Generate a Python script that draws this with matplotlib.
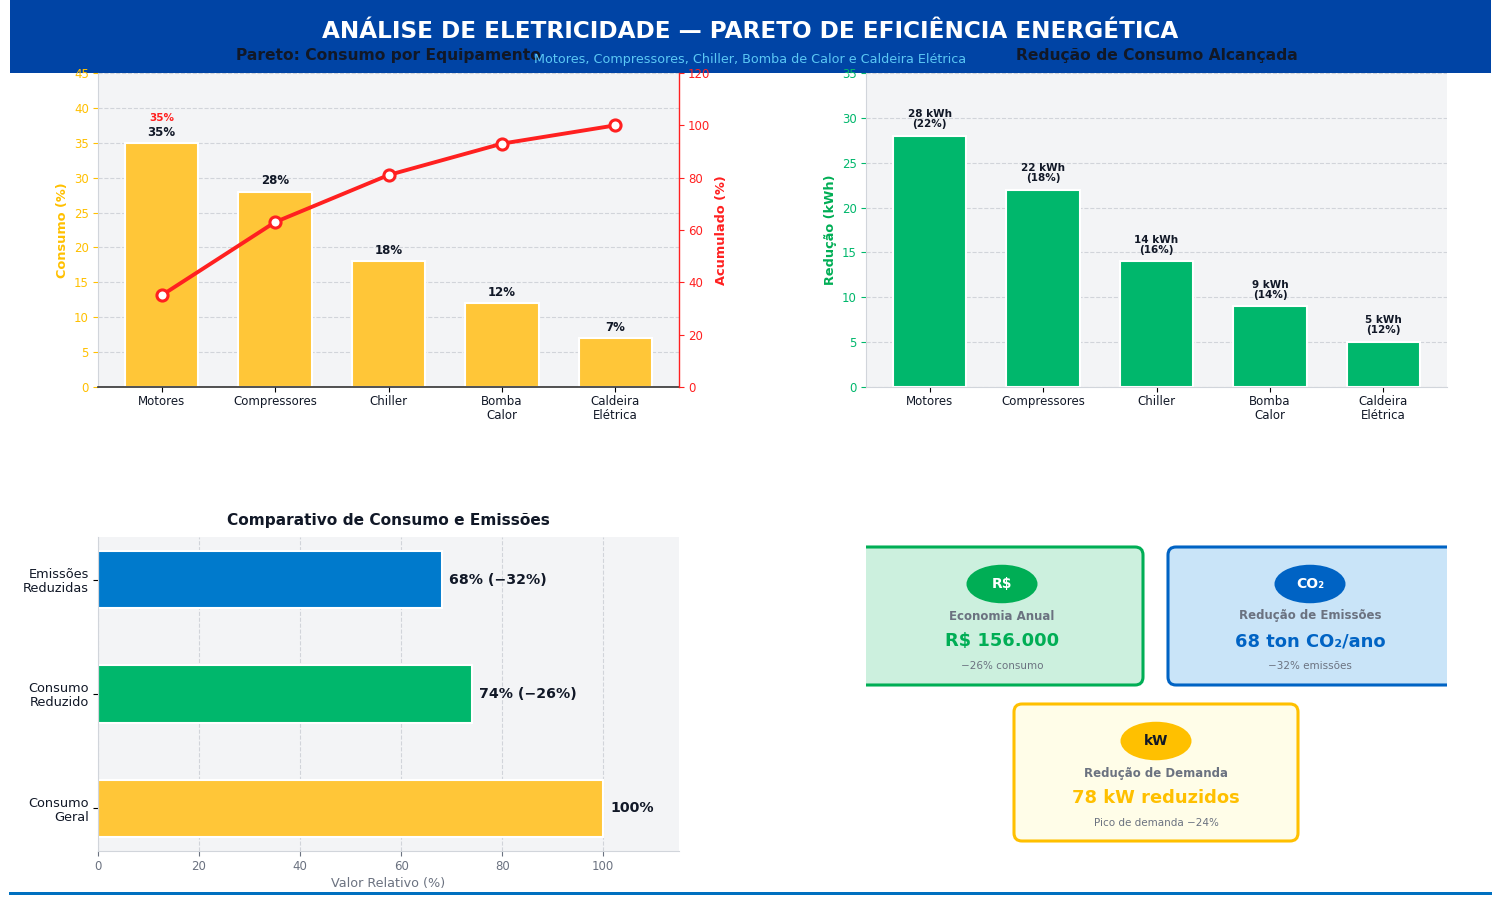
import matplotlib
matplotlib.use("Agg")
import matplotlib.pyplot as plt
from matplotlib.patches import Rectangle, FancyBboxPatch, Ellipse

W, H = 1500, 898

equip = ["Motores", "Compressores", "Chiller", "Bomba\nCalor", "Caldeira\nElétrica"]
consumo = [35, 28, 18, 12, 7]
acumulado = [35, 63, 81, 93, 100]
reducao_kwh = [28, 22, 14, 9, 5]
reducao_pct = [22, 18, 16, 14, 12]
comp_labels = ["Consumo\nGeral", "Consumo\nReduzido", "Emissões\nReduzidas"]
comp_values = [100, 74, 68]
comp_texts = ["100%", "74% (−26%)", "68% (−32%)"]

YELLOW = "#FFC000"
YELLOW_BAR = "#FFC638"
RED = "#FF2020"
GREEN = "#00AE55"
GREEN_BAR = "#00B76C"
BLUE = "#0070C0"
BLUE_BAR = "#007ACC"
NAVY = "#0044A5"
DARK = "#111827"
GRAY = "#6B7280"
PANEL = "#F3F4F6"
SPINE = "#D1D5DB"

plt.rcParams["font.family"] = "DejaVu Sans"
fig = plt.figure(figsize=(W / 100, H / 100), dpi=100, facecolor="white")


def box(x0, y0, x1, y1):
    return [x0 / W, 1 - y1 / H, (x1 - x0) / W, (y1 - y0) / H]


def style(ax):
    ax.set_facecolor(PANEL)
    ax.set_axisbelow(True)
    ax.spines["top"].set_visible(False)
    ax.spines["right"].set_visible(False)
    ax.spines["left"].set_color(SPINE)
    ax.spines["bottom"].set_color(SPINE)
    ax.tick_params(labelsize=8.5, pad=3)
    ax.tick_params(axis="x", pad=2.5)


def equipment_ticks(ax, positions):
    ax.set_xlim(-0.56, 4.56)
    ax.set_xticks(positions)
    ax.set_xticklabels(equip, color=DARK, linespacing=1.05)


# Header band sits behind the axes, so tick labels and titles stay on top of it
fig.add_artist(Rectangle((10 / W, 1 - 73 / H), 1481 / W, 73 / H, transform=fig.transFigure,
                         facecolor=NAVY, edgecolor="none", zorder=-1))

# Pareto of consumption per equipment
ax1 = fig.add_axes(box(98, 73, 679, 387))
style(ax1)
xs = list(range(len(equip)))
ax1.bar(xs, consumo, width=0.65, color=YELLOW_BAR, edgecolor="white", linewidth=1.5)
ax1.set_ylim(0, 45)
equipment_ticks(ax1, xs)
ax1.tick_params(axis="y", colors=YELLOW)
ax1.grid(axis="y", linestyle="--", color="#C9CDD3", linewidth=0.8, alpha=0.8)
ax1.spines["bottom"].set_color("#333333")
ax1.spines["bottom"].set_linewidth(1.2)
ax1.set_ylabel("Consumo (%)", color=YELLOW, fontsize=9.3, fontweight="bold", labelpad=3.5)
ax1.set_title("Pareto: Consumo por Equipamento", fontsize=11.2, fontweight="bold", color=DARK, pad=9.5)
for x, v in zip(xs, consumo):
    ax1.text(x, v + 0.6, f"{v}%", ha="center", va="bottom", fontsize=8.5, fontweight="bold", color=DARK)
ax1.text(xs[0], consumo[0] + 2.9, f"{acumulado[0]}%", ha="center", va="bottom", fontsize=7.5, fontweight="bold", color=RED)

ax1b = ax1.twinx()
ax1b.plot(xs, acumulado, color=RED, linewidth=2.8, marker="o", markersize=8,
          markerfacecolor="white", markeredgecolor=RED, markeredgewidth=2.2)
ax1b.set_ylim(0, 120)
ax1b.tick_params(axis="y", colors=RED, labelsize=8.5, pad=3)
for side in ("top", "left", "bottom"):
    ax1b.spines[side].set_visible(False)
ax1b.spines["right"].set_color(RED)
ax1b.spines["right"].set_linewidth(1.0)
ax1b.set_ylabel("Acumulado (%)", color=RED, fontsize=9.3, fontweight="bold", labelpad=3)

# Achieved reduction per equipment
ax2 = fig.add_axes(box(866, 73, 1447, 387))
style(ax2)
ax2.bar(xs, reducao_kwh, width=0.65, color=GREEN_BAR, edgecolor="white", linewidth=1.5)
ax2.set_ylim(0, 35)
equipment_ticks(ax2, xs)
ax2.tick_params(axis="y", colors=GREEN_BAR)
ax2.grid(axis="y", linestyle="--", color="#C9CDD3", linewidth=0.8, alpha=0.8)
ax2.set_ylabel("Redução (kWh)", color=GREEN, fontsize=9.3, fontweight="bold", labelpad=3.5)
ax2.set_title("Redução de Consumo Alcançada", fontsize=11.2, fontweight="bold", color=DARK, pad=9.5)
for x, k, p in zip(xs, reducao_kwh, reducao_pct):
    ax2.text(x, k + 0.75, f"{k} kWh\n({p}%)", ha="center", va="bottom", fontsize=7.5,
             fontweight="bold", color=DARK, linespacing=1.0)

# Relative consumption and emissions
ax3 = fig.add_axes(box(98, 537, 679, 851))
style(ax3)
ys = list(range(len(comp_labels)))
ax3.barh(ys, comp_values, height=0.5, color=[YELLOW_BAR, GREEN_BAR, BLUE_BAR], edgecolor="white", linewidth=1.5)
ax3.set_xlim(0, 115)
ax3.set_ylim(-0.375, 2.375)
ax3.set_yticks(ys)
ax3.set_yticklabels(comp_labels, fontsize=9.3, color=DARK, linespacing=1.1)
ax3.tick_params(axis="x", colors=GRAY, pad=3)
ax3.grid(axis="x", linestyle="--", color="#C9CDD3", linewidth=0.8, alpha=0.8)
ax3.set_xlabel("Valor Relativo (%)", color=GRAY, fontsize=9.2, labelpad=2.5)
ax3.set_title("Comparativo de Consumo e Emissões", fontsize=11.1, fontweight="bold", color=DARK, pad=9)
for y, v, t in zip(ys, comp_values, comp_texts):
    ax3.text(v + 1.5, y, t, va="center", ha="left", fontsize=10.2, fontweight="bold", color=DARK)

# KPI cards, laid out in pixel units
ax4 = fig.add_axes(box(866, 537, 1447, 851))
ax4.set_xlim(866, 1447)
ax4.set_ylim(851, 537)
ax4.axis("off")


def card(x0, y0, x1, y1, cx, face, edge, badge, badge_color, title, value, note):
    ax4.add_patch(FancyBboxPatch((x0 + 7, y0 + 7), x1 - x0 - 14, y1 - y0 - 14,
                                 boxstyle="round,pad=7,rounding_size=8", facecolor=face,
                                 edgecolor=edge, linewidth=2.2, clip_on=True))
    ax4.add_patch(Ellipse((cx, y0 + 37), 71, 38.5, facecolor=edge, edgecolor="none"))
    ax4.text(cx, y0 + 37, badge, ha="center", va="center", fontsize=10, fontweight="bold", color=badge_color)
    ax4.text(cx, y0 + 69, title, ha="center", va="center", fontsize=8.5, fontweight="bold", color=GRAY)
    ax4.text(cx, y0 + 94, value, ha="center", va="center", fontsize=12.9, fontweight="bold", color=edge)
    ax4.text(cx, y0 + 119, note, ha="center", va="center", fontsize=7.5, color=GRAY)


card(850, 547, 1143, 685, 1002, "#CCF0DE", GREEN, "R$", "white", "Economia Anual", "R$ 156.000", "−26% consumo")
card(1168, 547, 1460, 685, 1310, "#C9E4F8", "#0063C4", "CO₂", "white", "Redução de Emissões", "68 ton CO₂/ano", "−32% emissões")
card(1014, 704, 1298, 841, 1156, "#FFFDE8", YELLOW, "kW", DARK, "Redução de Demanda", "78 kW reduzidos", "Pico de demanda −24%")

# Footer rule and header texts
fig.add_artist(Rectangle((9 / W, 1 - 894.5 / H), 1483 / W, 3 / H, transform=fig.transFigure,
                         facecolor=BLUE, edgecolor="none", zorder=5))
fig.text(750 / W, 1 - 31 / H, "ANÁLISE DE ELETRICIDADE — PARETO DE EFICIÊNCIA ENERGÉTICA", ha="center", va="center",
         fontsize=16.7, fontweight="bold", color="white", zorder=6)
fig.text(750 / W, 1 - 59.5 / H, "Motores, Compressores, Chiller, Bomba de Calor e Caldeira Elétrica", ha="center",
         va="center", fontsize=9.2, color="#5BC8F5", zorder=6)

fig.savefig("out.png", dpi=100)
